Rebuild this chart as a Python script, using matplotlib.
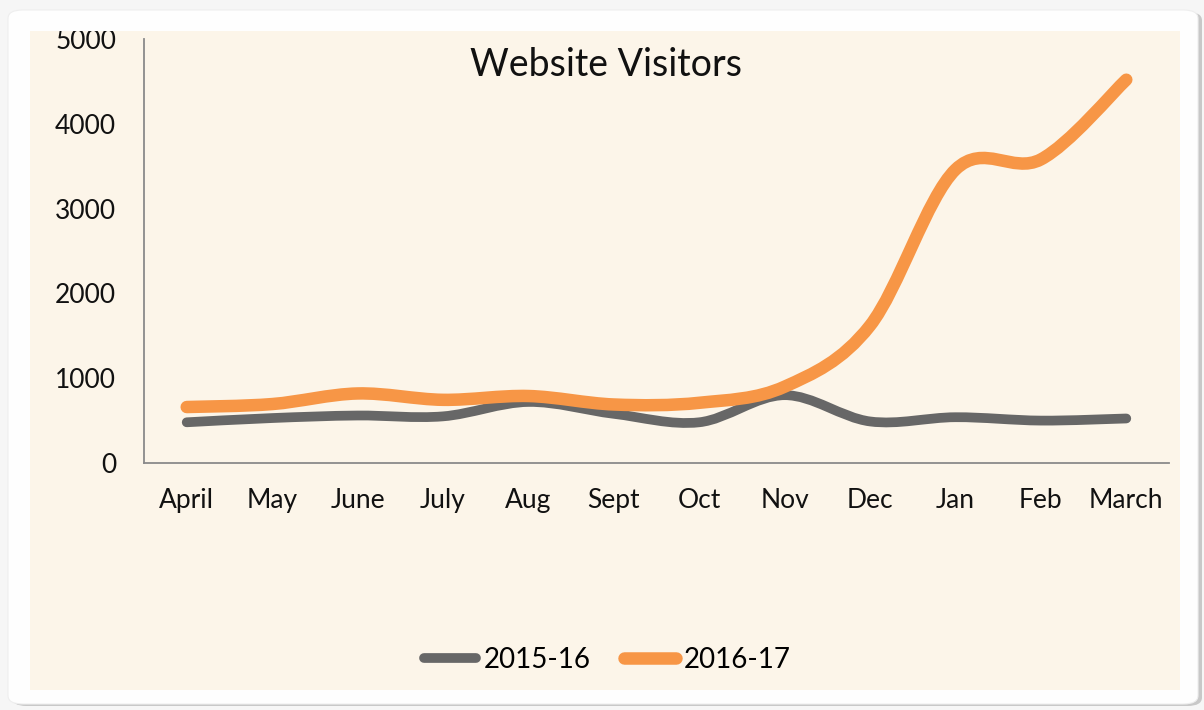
import numpy as np
import matplotlib
matplotlib.use("Agg")
import matplotlib.pyplot as plt
from matplotlib.path import Path
from matplotlib.patches import PathPatch, FancyBboxPatch, Rectangle
from matplotlib.lines import Line2D

months = ["April", "May", "June", "July", "Aug", "Sept", "Oct", "Nov", "Dec", "Jan", "Feb", "March"]
visitors_2015 = [480, 530, 560, 550, 720, 580, 480, 800, 490, 540, 500, 525]
visitors_2016 = [660, 695, 820, 745, 790, 690, 710, 900, 1620, 3460, 3580, 4520]
series_names = ["2015-16", "2016-17"]
colors = ["#676767", "#F79646"]
widths = [7, 9]

FONT = "Lato"
W, H = 1204, 710


def smooth_path(x, y):
    # Excel-style smoothed line: cubic bezier segments, control points from neighbours
    pts = np.column_stack([x, y]).astype(float)
    n = len(pts)
    verts = [pts[0]]
    codes = [Path.MOVETO]
    for i in range(n - 1):
        p0 = pts[i - 1] if i > 0 else pts[i]
        p1 = pts[i]
        p2 = pts[i + 1]
        p3 = pts[i + 2] if i + 2 < n else pts[i + 1]
        c1 = p1 + (p2 - p0) / 6.0
        c2 = p2 - (p3 - p1) / 6.0
        verts += [c1, c2, p2]
        codes += [Path.CURVE4] * 3
    return Path(verts, codes)


fig = plt.figure(figsize=(W / 100, H / 100), dpi=100)
fig.patch.set_facecolor("#f6f6f6")

# card with shadow
shadow = FancyBboxPatch((12 / W, 4 / H), 1190 / W, 694 / H,
                        boxstyle="round,pad=0,rounding_size=0.012",
                        transform=fig.transFigure, facecolor="#c8c8c8",
                        edgecolor="none", zorder=-10)
card = FancyBboxPatch((8 / W, 6 / H), 1190 / W, 694 / H,
                      boxstyle="round,pad=0,rounding_size=0.012",
                      transform=fig.transFigure, facecolor="#fefefe",
                      edgecolor="#eeeeee", lw=0.8, zorder=-9)
cream = Rectangle((30 / W, 20 / H), 1150 / W, 659 / H,
                  transform=fig.transFigure, facecolor="#FCF5E9",
                  edgecolor="none", zorder=-8)
fig.patches.extend([shadow, card, cream])

ax = fig.add_axes([144 / W, 247 / H, 1025 / W, 424 / H])
ax.set_facecolor("none")
x = np.arange(len(months))
ax.set_xlim(-0.5, len(months) - 0.5)
ax.set_ylim(0, 5000)

for vals, c, lw in zip([visitors_2015, visitors_2016], colors, widths):
    patch = PathPatch(smooth_path(x, vals), facecolor="none", edgecolor=c,
                      lw=lw, capstyle="round", joinstyle="round",
                      transform=ax.transData, clip_on=False, zorder=3)
    ax.add_patch(patch)

ax.set_xticks(x)
ax.set_xticklabels(months, fontsize=19, fontfamily=FONT, color="#111111")
ax.set_yticks(np.arange(0, 5001, 1000))
ax.set_yticklabels([str(v) for v in range(0, 5001, 1000)], fontsize=19,
                   fontfamily=FONT, color="#111111")
ax.tick_params(axis="both", length=0)
ax.tick_params(axis="y", pad=20)
ax.tick_params(axis="x", pad=18)
for lab in ax.get_yticklabels():
    lab.set_clip_path(cream)

for s in ["top", "right"]:
    ax.spines[s].set_visible(False)
for s in ["left", "bottom"]:
    ax.spines[s].set_color("#8a8a8a")
    ax.spines[s].set_linewidth(1.3)

fig.text(606 / W, 1 - 65 / H, "Website Visitors", ha="center", va="center",
         fontsize=27, fontfamily=FONT, color="#111111")

handles = [Line2D([], [], color=c, lw=lw, solid_capstyle="round")
           for c, lw in zip(colors, widths)]
fig.legend(handles, series_names, loc="center", bbox_to_anchor=(607 / W, 1 - 660 / H),
           ncol=2, frameon=False, handlelength=1.9, handletextpad=0.25,
           columnspacing=1.2, prop={"family": FONT, "size": 20})

fig.savefig("out.png", dpi=100, facecolor=fig.get_facecolor())
